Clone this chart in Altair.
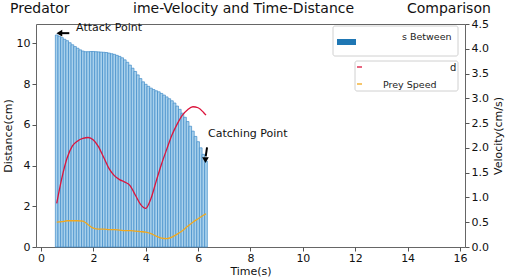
import altair as alt
import pandas as pd

# ---- data ----
bar_time = [0.6, 0.7, 0.8, 0.9, 1.0, 1.1, 1.2, 1.3, 1.4, 1.5, 1.6, 1.7, 1.8, 1.9, 2.0,
            2.1, 2.2, 2.3, 2.4, 2.5, 2.6, 2.7, 2.8, 2.9, 3.0, 3.1, 3.2, 3.3, 3.4, 3.5,
            3.6, 3.7, 3.8, 3.9, 4.0, 4.1, 4.2, 4.3, 4.4, 4.5, 4.6, 4.7, 4.8, 4.9, 5.0,
            5.1, 5.2, 5.3, 5.4, 5.5, 5.6, 5.7, 5.8, 5.9, 6.0, 6.1, 6.2, 6.3]
distance = [10.41, 10.35, 10.28, 10.20, 10.13, 10.03, 9.93, 9.84, 9.76, 9.68, 9.62, 9.59,
            9.59, 9.60, 9.60, 9.59, 9.58, 9.57, 9.56, 9.55, 9.52, 9.49, 9.46, 9.41, 9.36,
            9.29, 9.19, 9.07, 8.93, 8.78, 8.62, 8.45, 8.27, 8.11, 7.99, 7.89, 7.80, 7.73,
            7.67, 7.62, 7.54, 7.46, 7.37, 7.28, 7.18, 7.07, 6.92, 6.76, 6.57, 6.37, 6.16,
            5.93, 5.69, 5.43, 5.17, 4.87, 4.55, 4.22]

speed_time = [0.6, 0.8, 1.0, 1.2, 1.4, 1.6, 1.8, 2.0, 2.2, 2.4, 2.6, 2.8, 3.0, 3.2, 3.4,
              3.6, 3.8, 4.0, 4.2, 4.4, 4.6, 4.8, 5.0, 5.2, 5.4, 5.6, 5.8, 6.0, 6.2, 6.3]
predator_speed = [0.88, 1.40, 1.80, 2.04, 2.14, 2.19, 2.21, 2.16, 2.02, 1.80, 1.58, 1.44,
                  1.36, 1.31, 1.24, 1.05, 0.86, 0.78, 0.98, 1.33, 1.67, 1.97, 2.26, 2.48,
                  2.66, 2.77, 2.83, 2.81, 2.72, 2.66]
prey_speed = [0.50, 0.51, 0.53, 0.53, 0.53, 0.52, 0.45, 0.38, 0.36, 0.36, 0.35, 0.35,
              0.34, 0.33, 0.33, 0.32, 0.31, 0.30, 0.27, 0.22, 0.18, 0.17, 0.20, 0.26,
              0.33, 0.42, 0.50, 0.57, 0.64, 0.67]

x_ticks = [0, 2, 4, 6, 8, 10, 12, 14, 16]
dist_ticks = [0, 2, 4, 6, 8, 10]
vel_ticks = [0.0, 0.5, 1.0, 1.5, 2.0, 2.5, 3.0, 3.5, 4.0, 4.5]

# annotations (data coordinates)
arrow_t = [1.08, 6.34]
arrow_d = [10.50, 4.89]
arrow_t2 = [0.76, 6.29]
arrow_d2 = [10.50, 4.45]
head_t = [0.70, 6.28]
head_d = [10.50, 4.27]
head_shape = ["triangle-left", "triangle-down"]
note_t = [1.34, 6.38]
note_d = [10.62, 5.41]
note_text = ["Attack Point", "Catching Point"]

FONT = "DejaVu Sans"

bars_df = pd.DataFrame({"t": bar_time, "d": distance})
lines_df = pd.DataFrame({
    "t": speed_time + speed_time,
    "v": predator_speed + prey_speed,
    "series": ["Predator Speed"] * len(speed_time) + ["Prey Speed"] * len(speed_time),
})
arrow_df = pd.DataFrame({"t": arrow_t, "d": arrow_d, "t2": arrow_t2, "d2": arrow_d2})
head_df = pd.DataFrame({"t": head_t, "d": head_d, "shape": head_shape})
note_df = pd.DataFrame({"t": note_t, "d": note_d, "txt": note_text})

xscale = alt.Scale(domain=[0, 16], nice=False, zero=False)
yscale = alt.Scale(domain=[0, 10.95], nice=False)
vscale = alt.Scale(domain=[0, 4.5], nice=False)

xaxis = alt.Axis(values=x_ticks, title="Time(s)", grid=False, format="d")
yaxis = alt.Axis(values=dist_ticks, title="Distance(cm)", grid=False, format="d")


def X(field="t:Q"):
    return alt.X(field, scale=xscale, axis=xaxis, title="Time(s)")


def Y(field="d:Q"):
    return alt.Y(field, scale=yscale, axis=yaxis, title="Distance(cm)")


bars = alt.Chart(bars_df).mark_bar(
    width=2.68, fill="#a9d1ec", stroke="#3f8bc8", strokeWidth=0.7
).encode(x=X(), y=Y())

arrows = alt.Chart(arrow_df).mark_rule(color="black", strokeWidth=2).encode(
    x=X(), y=Y(), x2="t2:Q", y2="d2:Q",
)
heads = alt.Chart(head_df).mark_point(filled=True, color="black", size=45, opacity=1).encode(
    x=X(), y=Y(),
    shape=alt.Shape("shape:N", scale=None, legend=None),
)
notes = alt.Chart(note_df).mark_text(
    align="left", baseline="alphabetic", fontSize=11, font=FONT, color="#111"
).encode(x=X(), y=Y(), text="txt:N")

left = alt.layer(bars, arrows, heads, notes)

lines = alt.Chart(lines_df).mark_line(strokeWidth=1.3, interpolate="monotone").encode(
    x=X(),
    y=alt.Y("v:Q", scale=vscale,
            axis=alt.Axis(orient="right", values=vel_ticks, title="Velocity(cm/s)",
                          format=".1f", grid=False, titleAngle=270, titlePadding=15)),
    color=alt.Color("series:N", legend=None,
                    scale=alt.Scale(domain=["Predator Speed", "Prey Speed"],
                                    range=["#dc143c", "#f2a81d"])),
)

# ---- decorations: title fragments and legend boxes (as seen in the reference) ----
one = pd.DataFrame({"k": [0]})


def txt(s, x, y, size, color="#111", align="left"):
    return alt.Chart(one).mark_text(
        text=s, align=align, baseline="alphabetic", fontSize=size, font=FONT, color=color
    ).encode(x=alt.value(x), y=alt.value(y))


def box(x, x2, y, y2, fill="white", stroke="#d0d0d0"):
    return alt.Chart(one).mark_rect(fill=fill, stroke=stroke, strokeWidth=1, cornerRadius=2).encode(
        x=alt.value(x), x2=alt.value(x2), y=alt.value(y), y2=alt.value(y2))


def dash(x, x2, y, color):
    return alt.Chart(one).mark_rule(color=color, strokeWidth=1.3).encode(
        x=alt.value(x), x2=alt.value(x2), y=alt.value(y))


title_parts = [
    txt("Predator", -26, -11, 14),
    txt("ime-Velocity and Time-Distance", 97, -11, 14),
    txt("Comparison", 371, -11, 14),
]
legend_parts = [
    box(297, 422, 2, 32),
    alt.Chart(one).mark_rect(fill="#1f77b4").encode(
        x=alt.value(301), x2=alt.value(320), y=alt.value(15), y2=alt.value(21)),
    txt("s Between", 366, 16, 9.5, "#222"),
    box(319, 422, 37, 67),
    dash(321, 326, 43, "#dc143c"),
    dash(321, 326, 60, "#f2a81d"),
    txt("d", 414, 47, 10, "#222"),
    txt("Prey Speed", 347, 64, 9.5, "#222"),
]

chart = alt.layer(left, lines, *title_parts, *legend_parts).resolve_scale(
    y="independent"
).properties(
    width=429, height=223,
    autosize=alt.AutoSizeParams(type="none"),
    padding={"left": 36, "top": 24, "right": 40, "bottom": 31},
).configure_view(
    stroke="#666", strokeWidth=1
).configure_axis(
    labelFont=FONT, titleFont=FONT, labelFontSize=11, titleFontSize=11,
    labelColor="#111", titleColor="#111", titleFontWeight="normal",
    domain=False, tickColor="#555", tickSize=4, labelPadding=2, titlePadding=3,
).configure_axisX(
    titlePadding=2, labelPadding=1
)

chart.save("out.html", embed_options={"renderer": "svg", "actions": False})
